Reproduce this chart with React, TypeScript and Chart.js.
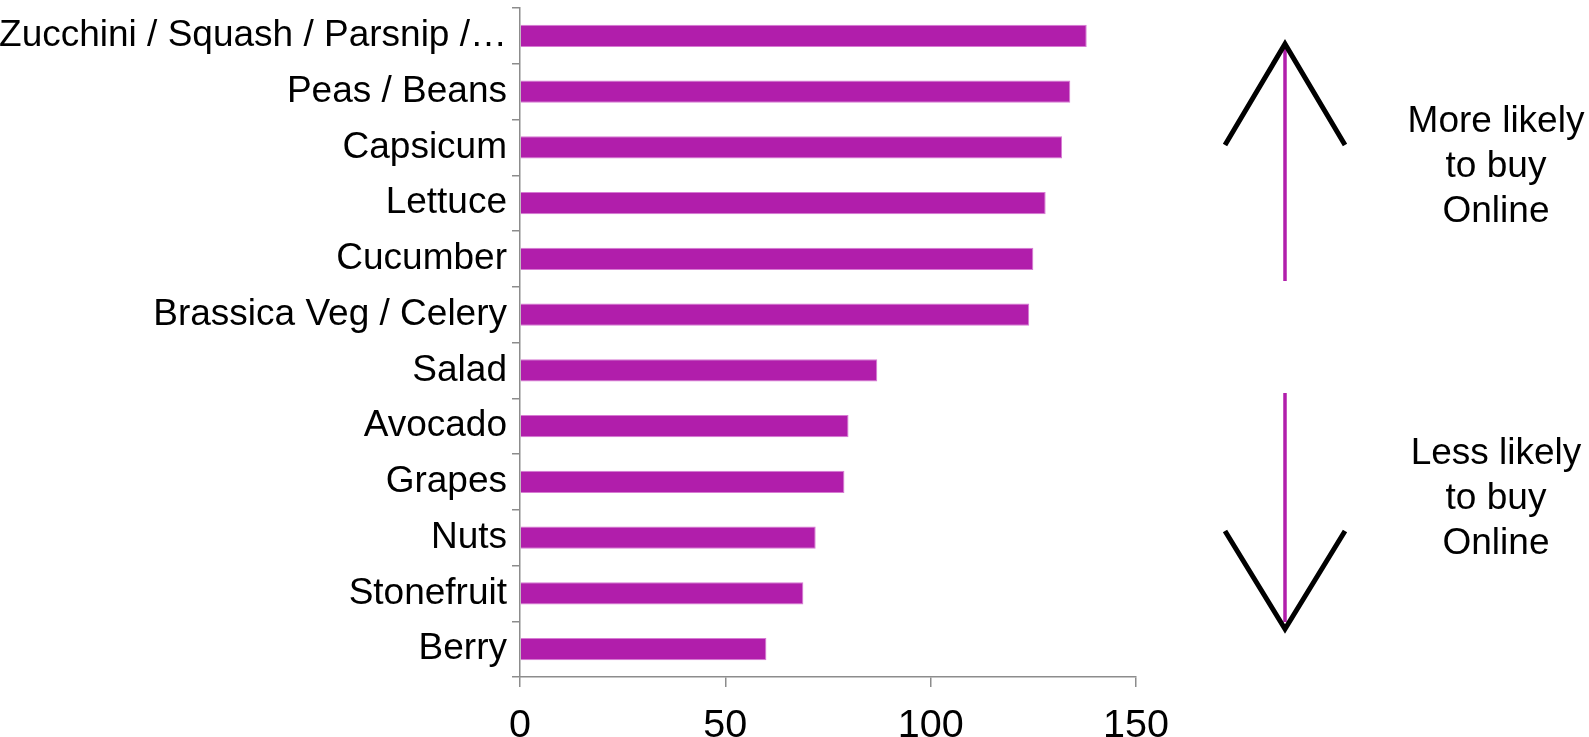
import React, { useEffect, useRef } from "react";
import { Chart, registerables } from "chart.js";

Chart.register(...registerables);

const categories: string[] = [
  "Zucchini / Squash / Parsnip /…",
  "Peas / Beans",
  "Capsicum",
  "Lettuce",
  "Cucumber",
  "Brassica Veg / Celery",
  "Salad",
  "Avocado",
  "Grapes",
  "Nuts",
  "Stonefruit",
  "Berry",
];

const values: number[] = [138, 134, 132, 128, 125, 124, 87, 80, 79, 72, 69, 60];

const xMin = 0;
const xMax = 150;
const xStep = 50;

const upperText: string[] = ["More likely", "to buy", "Online"];
const lowerText: string[] = ["Less likely", "to buy", "Online"];

const W = 1589;
const H = 737;
const FONT = "'Liberation Sans', Arial, Helvetica, sans-serif";
const BAR = "#B11EAB";
const AXIS = "#8c8c8c";

export default function App() {
  const canvasRef = useRef<HTMLCanvasElement | null>(null);

  useEffect(() => {
    const canvas = canvasRef.current;
    if (!canvas) return;
    const chart = new Chart(canvas, {
      type: "bar",
      data: {
        labels: categories,
        datasets: [
          {
            data: values,
            backgroundColor: BAR,
            borderColor: "#D77BD3",
            borderWidth: 1,
            categoryPercentage: 1,
            barPercentage: 0.4,
          },
        ],
      },
      options: {
        indexAxis: "y",
        responsive: false,
        maintainAspectRatio: false,
        animation: false,
        devicePixelRatio: 1,
        layout: { padding: { top: 8, right: 453, left: 0, bottom: 0 } },
        plugins: { legend: { display: false }, tooltip: { enabled: false } },
        scales: {
          y: {
            type: "category",
            grid: { drawOnChartArea: false, color: AXIS, tickLength: 8, offset: true, lineWidth: 1.5 },
            border: { color: AXIS, width: 1.5 },
            ticks: {
              autoSkip: false,
              color: "#000",
              padding: 5,
              font: { family: FONT, size: 37 },
            },
            afterFit: (s: any) => {
              s.width = 520;
              s.paddingTop = 0;
              s.paddingBottom = 0;
            },
          },
          x: {
            type: "linear",
            min: xMin,
            max: xMax,
            grid: { drawOnChartArea: false, color: AXIS, tickLength: 10, lineWidth: 1.5 },
            border: { color: AXIS, width: 1.5 },
            ticks: {
              stepSize: xStep,
              color: "#000",
              padding: 15,
              font: { family: FONT, size: 39.5 },
            },
            afterFit: (s: any) => {
              s.height = 60;
            },
          },
        },
      },
    } as any);
    return () => chart.destroy();
  }, []);

  const textStyle: React.CSSProperties = {
    position: "absolute",
    left: 1396,
    width: 200,
    textAlign: "center",
    fontFamily: FONT,
    fontSize: 37,
    lineHeight: "45px",
    color: "#000",
    whiteSpace: "nowrap",
  };

  return (
    <div style={{ position: "absolute", left: 0, top: 0, width: W, height: H, background: "#fff", overflow: "hidden" }}>
      <canvas ref={canvasRef} width={W} height={H} style={{ position: "absolute", left: 0, top: 0, width: W, height: H }} />
      <svg width={W} height={H} style={{ position: "absolute", left: 0, top: 0, pointerEvents: "none" }}>
        <line x1={1285} y1={48} x2={1285} y2={281} stroke={BAR} strokeWidth={3.5} />
        <polyline points="1225,145 1285,44 1345,145" fill="none" stroke="#000" strokeWidth={5} />
        <line x1={1285} y1={393} x2={1285} y2={622} stroke={BAR} strokeWidth={3.5} />
        <polyline points="1225,531 1285,629 1345,531" fill="none" stroke="#000" strokeWidth={5} />
      </svg>
      <div style={{ ...textStyle, top: 96.5 }}>
        {upperText.map((t) => (
          <div key={t}>{t}</div>
        ))}
      </div>
      <div style={{ ...textStyle, top: 428.5 }}>
        {lowerText.map((t) => (
          <div key={t}>{t}</div>
        ))}
      </div>
    </div>
  );
}
